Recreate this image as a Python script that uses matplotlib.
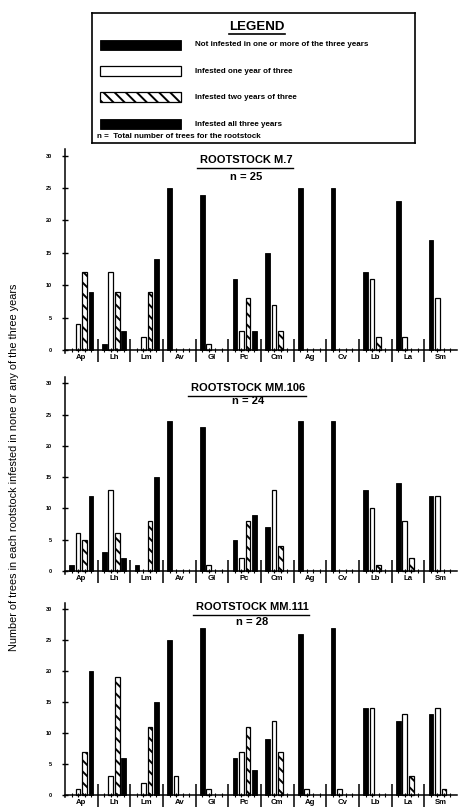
import matplotlib
matplotlib.use('Agg')
import matplotlib.pyplot as plt
from matplotlib.patches import Rectangle
from matplotlib.lines import Line2D

plt.rcParams['font.family'] = ['Liberation Sans', 'DejaVu Sans']
plt.rcParams['hatch.linewidth'] = 1.4

groups = ['Ap', 'Lh', 'Lm', 'Av', 'Gl', 'Pc', 'Cm', 'Ag', 'Cv', 'Lb', 'La', 'Sm']

# rootstock M.7, n = 25
m7_none = [0, 1, 0, 25, 24, 11, 15, 25, 25, 12, 23, 17]
m7_one = [4, 12, 2, 0, 1, 3, 7, 0, 0, 11, 2, 8]
m7_two = [12, 9, 9, 0, 0, 8, 3, 0, 0, 2, 0, 0]
m7_three = [9, 3, 14, 0, 0, 3, 0, 0, 0, 0, 0, 0]

# rootstock MM.106, n = 24
mm106_none = [1, 3, 1, 24, 23, 5, 7, 24, 24, 13, 14, 12]
mm106_one = [6, 13, 0, 0, 1, 2, 13, 0, 0, 10, 8, 12]
mm106_two = [5, 6, 8, 0, 0, 8, 4, 0, 0, 1, 2, 0]
mm106_three = [12, 2, 15, 0, 0, 9, 0, 0, 0, 0, 0, 0]

# rootstock MM.111, n = 28
mm111_none = [0, 0, 0, 25, 27, 6, 9, 26, 27, 14, 12, 13]
mm111_one = [1, 3, 2, 3, 1, 7, 12, 1, 1, 14, 13, 14]
mm111_two = [7, 19, 11, 0, 0, 11, 7, 0, 0, 0, 3, 1]
mm111_three = [20, 6, 15, 0, 0, 4, 0, 0, 0, 0, 0, 0]

W, H = 458, 807
fig = plt.figure(figsize=(W / 100, H / 100), dpi=100)


def rect(left, top, right, bottom):
    # pixel box -> figure fraction
    return [left / W, 1 - bottom / H, (right - left) / W, (bottom - top) / H]


def fx(x):
    return x / W


def fy(y):
    return 1 - y / H


black = dict(color='black', edgecolor='black', linewidth=0.6)
white = dict(facecolor='white', edgecolor='black', linewidth=0.9)
hatched = dict(facecolor='white', edgecolor='black', linewidth=0.9, hatch='\\\\\\')


def draw_bars(ax, vals, slot, style):
    xs = [5 * i + slot for i, v in enumerate(vals) if v > 0]
    hs = [v for v in vals if v > 0]
    ax.bar(xs, hs, width=0.72, **style)


panels = [
    # zero px, thirty px, title, n text, title y, n y, title x
    (350, 155.7, 'ROOTSTOCK M.7', 'n = 25', 160, 177, 246,
     m7_none, m7_one, m7_two, m7_three),
    (571, 383.3, 'ROOTSTOCK MM.106', 'n = 24', 388, 401, 248,
     mm106_none, mm106_one, mm106_two, mm106_three),
    (795, 609, 'ROOTSTOCK MM.111', 'n = 28', 607, 622, 252,
     mm111_none, mm111_one, mm111_two, mm111_three),
]

renderer = fig.canvas.get_renderer()
ylo, yhi = -2.2, 31.5

for zero, thirty, title, ntxt, ty, ny, tx, s1, s2, s3, s4 in panels:
    ppu = (zero - thirty) / 30
    ax = fig.add_axes(rect(65, zero - yhi * ppu, 457, zero - ylo * ppu))
    ax.set_xlim(0, 60)
    ax.set_ylim(ylo, yhi)
    ax.patch.set_alpha(0)

    draw_bars(ax, s1, 1, black)
    draw_bars(ax, s2, 2, white)
    draw_bars(ax, s3, 3, hatched)
    draw_bars(ax, s4, 4, black)

    ax.vlines(range(5, 60, 5), -1.9, 1.7, color='black', lw=1.1)

    for side in ['top', 'right']:
        ax.spines[side].set_visible(False)
    ax.spines['bottom'].set_position(('data', 0))
    ax.spines['left'].set_bounds(-0.4, 31)
    ax.spines['bottom'].set_linewidth(1.1)
    ax.spines['left'].set_linewidth(1.1)

    ax.set_yticks(range(0, 31, 5))
    ax.set_yticklabels([str(v) for v in range(0, 31, 5)], fontsize=4, fontweight='bold')
    ax.tick_params(axis='y', direction='inout', length=5, width=1, pad=7)

    ax.set_xticks([5 * i + 2.5 for i in range(12)])
    ax.set_xticklabels(groups, fontsize=5.6, fontweight='bold')
    ax.tick_params(axis='x', which='major', length=0, pad=3)
    ax.set_xticks([k for k in range(1, 60) if k % 5], minor=True)
    ax.tick_params(axis='x', which='minor', direction='inout', length=3, width=0.8)

    t = fig.text(fx(tx), fy(ty), title, fontsize=8, fontweight='bold', ha='center', va='center')
    fig.text(fx(tx), fy(ny), ntxt, fontsize=8, fontweight='bold', ha='center', va='center')
    bb = t.get_window_extent(renderer)
    fig.add_artist(Line2D([(bb.x0 - 3) / W, (bb.x1 + 1) / W], [fy(ty + 7.5)] * 2,
                          color='black', lw=1.0, transform=fig.transFigure))

# y label
fig.text(fx(14), fy(467),
         'Number of trees in each rootstock infested in none or any of the three years',
         rotation=90, fontsize=7.8, ha='center', va='center')

# legend box
lax = fig.add_axes(rect(92, 13, 415, 143))
lax.set_xlim(92, 415)
lax.set_ylim(143, 13)
lax.set_xticks([])
lax.set_yticks([])
for sp in lax.spines.values():
    sp.set_linewidth(1.2)

leg_labels = ['Not infested in one or more of the three years',
              'Infested one year of three',
              'Infested two years of three',
              'Infested all three years']
leg_styles = [black, white, hatched, black]
leg_rows = [44.7, 71.3, 97.2, 124.2]
for lbl, st, cy in zip(leg_labels, leg_styles, leg_rows):
    lax.add_patch(Rectangle((100, cy - 5), 81, 10, **st))
    lax.text(195, cy, lbl, fontsize=5.8, fontweight='bold', va='center', ha='left')

lt = lax.text(257, 27, 'LEGEND', fontsize=9.5, fontweight='bold', ha='center', va='center')
bb = lt.get_window_extent(renderer)
fig.add_artist(Line2D([bb.x0 / W, bb.x1 / W], [fy(34)] * 2, color='black', lw=1.2,
                      transform=fig.transFigure))
lax.text(97, 137, 'n =  Total number of trees for the rootstock', fontsize=5.8,
         fontweight='bold', va='center', ha='left')

fig.savefig('out.png', dpi=100)
